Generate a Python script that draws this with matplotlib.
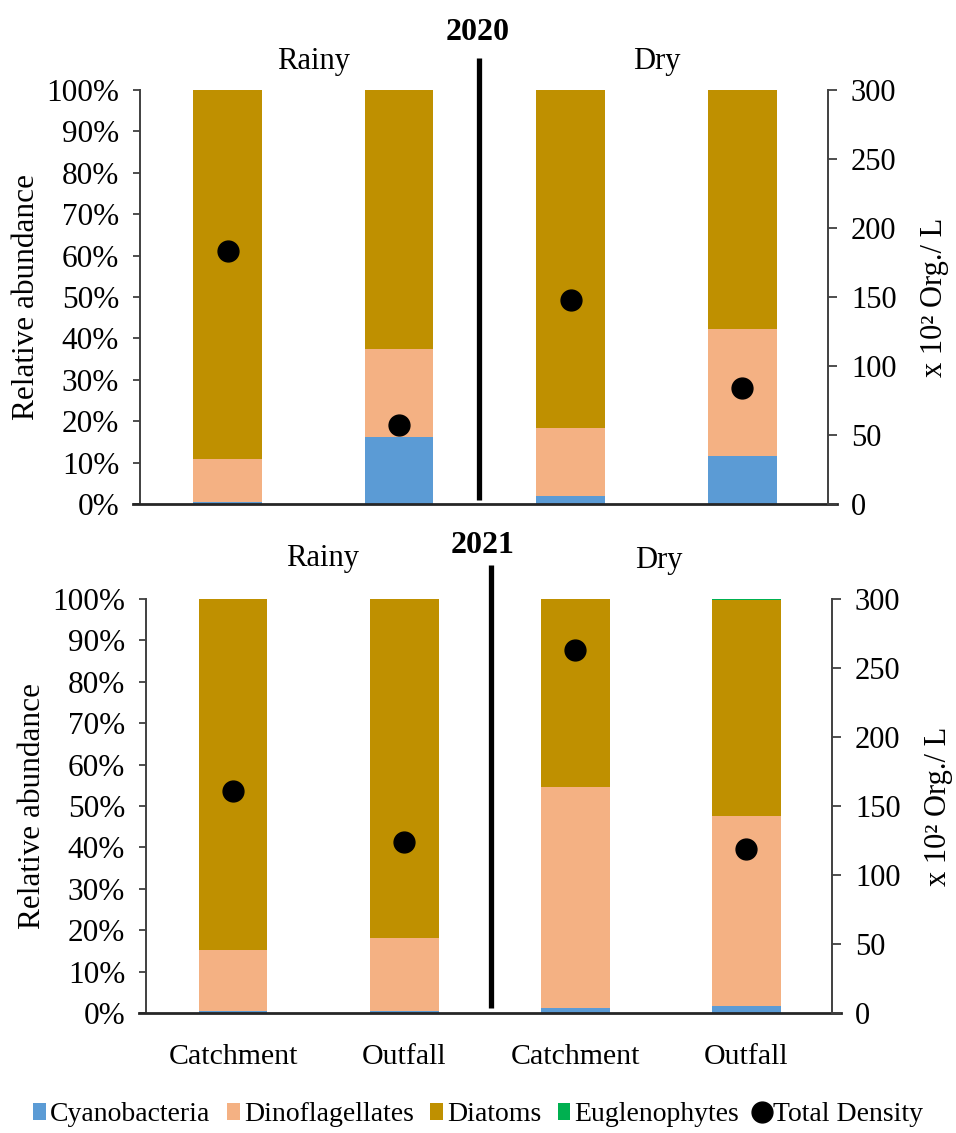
import matplotlib
matplotlib.use("Agg")
import matplotlib.pyplot as plt
from matplotlib.ticker import PercentFormatter, MultipleLocator
from matplotlib.lines import Line2D
from matplotlib.patches import Patch

plt.rcParams['font.family'] = ['Liberation Serif', 'DejaVu Serif']

sites = ["Catchment", "Outfall", "Catchment", "Outfall"]
seasons = ["Rainy", "Dry"]
years = ["2020", "2021"]

# relative abundance (%)
cyano_2020 = [0.5, 16.2, 2.0, 11.7]
dino_2020 = [10.4, 21.2, 16.4, 30.5]
diatoms_2020 = [89.1, 62.6, 81.6, 57.8]
eugleno_2020 = [0.0, 0.0, 0.0, 0.0]
density_2020 = [183, 57, 148, 84]

cyano_2021 = [0.4, 0.6, 1.2, 1.7]
dino_2021 = [14.9, 17.4, 53.5, 45.9]
diatoms_2021 = [84.7, 82.0, 45.3, 52.1]
eugleno_2021 = [0.0, 0.0, 0.0, 0.3]
density_2021 = [161, 124, 263, 119]

C_CYAN = "#5B9BD5"
C_DINO = "#F4B183"
C_DIAT = "#BF9000"
C_EUGL = "#00B050"
SPINE = "#404040"

W, H = 956, 1133
fig = plt.figure(figsize=(W / 100, H / 100), dpi=100)

panels = [
    dict(rect=(140 / W, 1 - 504 / H, 688 / W, 414 / H), year=years[0],
         cy=cyano_2020, di=dino_2020, dt=diatoms_2020, eu=eugleno_2020, dens=density_2020,
         divx=1.466, divy=(0.0097, 1.077), season_y=(1.068, 1.068), season_x=(0.5, 2.5),
         year_xy=(1.46, 1.14), xlabels=False),
    dict(rect=(146 / W, 1 - 1013 / H, 686 / W, 414 / H), year=years[1],
         cy=cyano_2021, di=dino_2021, dt=diatoms_2021, eu=eugleno_2021, dens=density_2021,
         divx=1.507, divy=(0.012, 1.082), season_y=(1.099, 1.092), season_x=(0.52, 2.49),
         year_xy=(1.455, 1.13), xlabels=True),
]

x = list(range(len(sites)))
bw = 0.40

for p in panels:
    ax = fig.add_axes(p["rect"])
    cy = [v / 100 for v in p["cy"]]
    di = [v / 100 for v in p["di"]]
    dt = [v / 100 for v in p["dt"]]
    eu = [v / 100 for v in p["eu"]]
    b1 = cy
    b2 = [a + b for a, b in zip(cy, di)]
    b3 = [a + b for a, b in zip(b2, dt)]
    ax.bar(x, cy, bw, color=C_CYAN, zorder=2)
    ax.bar(x, di, bw, bottom=b1, color=C_DINO, zorder=2)
    ax.bar(x, dt, bw, bottom=b2, color=C_DIAT, zorder=2)
    ax.bar(x, eu, bw, bottom=b3, color=C_EUGL, zorder=2)
    ax.set_xlim(-0.51, 3.5)
    ax.set_ylim(0, 1)
    ax.yaxis.set_major_locator(MultipleLocator(0.1))
    ax.yaxis.set_major_formatter(PercentFormatter(1.0, decimals=0))
    ax.tick_params(axis='y', direction='out', length=5, width=1.3, color=SPINE,
                   labelsize=22.5, pad=10)
    ax.set_xticks(x)
    if p["xlabels"]:
        ax.set_xticklabels(sites, fontsize=21.5)
    else:
        ax.set_xticklabels([])
    ax.tick_params(axis='x', length=0, pad=22)
    for s in ["top", "right"]:
        ax.spines[s].set_visible(False)
    ax.spines["left"].set_color(SPINE)
    ax.spines["left"].set_linewidth(1.4)
    ax.spines["bottom"].set_visible(False)
    ax.plot([-0.0105, 1.013], [0, 0], transform=ax.transAxes, color="#262626",
            lw=2.0, clip_on=False, zorder=5)
    ax.set_ylabel("Relative abundance", fontsize=22.5, va='center')
    ax.yaxis.set_label_coords(-0.165, 0.5)

    ax2 = ax.twinx()
    ax2.set_ylim(0, 300)
    ax2.yaxis.set_major_locator(MultipleLocator(50))
    ax2.plot(x, p["dens"], linestyle='none', marker='o', markersize=15,
             color='black', zorder=6)
    for s in ["top", "left", "bottom"]:
        ax2.spines[s].set_visible(False)
    ax2.spines["right"].set_color(SPINE)
    ax2.spines["right"].set_linewidth(1.4)
    ax2.tick_params(axis='y', direction='out', length=6.5, width=1.3, color=SPINE,
                    labelsize=22, pad=10)
    ax2.set_ylabel("x 10² Org./ L", fontsize=22, va='center')
    ax2.yaxis.set_label_coords(1.155, 0.5)

    # divider between seasons
    ax.plot([p["divx"], p["divx"]], list(p["divy"]), color='black', lw=3.8,
            transform=ax.get_xaxis_transform(), clip_on=False, zorder=7,
            solid_capstyle='butt')
    for sx, sy, name in zip(p["season_x"], p["season_y"], seasons):
        ax.text(sx, sy, name, transform=ax.get_xaxis_transform(), ha='center',
                va='center', fontsize=22)
    ax.text(p["year_xy"][0], p["year_xy"][1], p["year"], transform=ax.get_xaxis_transform(),
            ha='center', va='center', fontsize=23, fontweight='bold')

handles = [
    Patch(facecolor=C_CYAN, label="Cyanobacteria"),
    Patch(facecolor=C_DINO, label="Dinoflagellates"),
    Patch(facecolor=C_DIAT, label="Diatoms"),
    Patch(facecolor=C_EUGL, label="Euglenophytes"),
    Line2D([], [], linestyle='none', marker='o', markersize=15, color='black',
           label="Total Density"),
]
fig.legend(handles=handles, loc='center', bbox_to_anchor=(0.5, 0.016), ncol=5,
           frameon=False, fontsize=20, handlelength=0.45, handleheight=0.6,
           handletextpad=0.15, columnspacing=0.6, borderaxespad=0)

fig.savefig("out.png", dpi=100)
